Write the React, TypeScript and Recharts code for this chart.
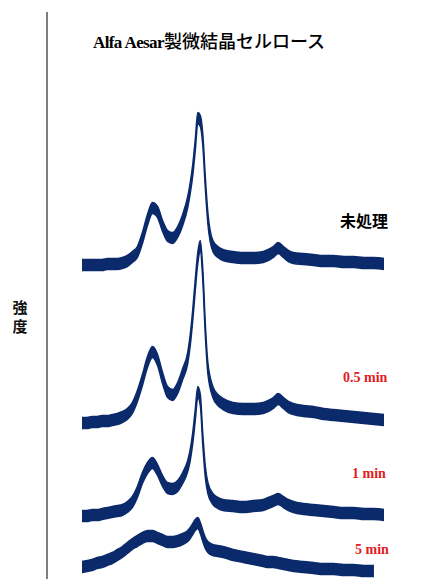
import { Area, ComposedChart, ReferenceLine, XAxis, YAxis } from "recharts";

// 2θ (deg) sampling, finer around the main (200) reflection
const TWO_THETA = [
  10, 10.5, 11, 11.5, 12, 12.5, 13, 13.5, 14, 14.5, 15, 15.5, 16,
  16.5, 17, 17.5, 18, 18.5, 19, 19.5, 20, 20.5,
  20.75, 21, 21.25, 21.5, 21.75, 22, 22.25, 22.5,
  23, 23.5, 24, 25, 26, 27, 28,
  28.5, 29, 29.5, 30, 30.5, 31,
  32, 33, 34, 35, 36, 37, 38, 39, 40,
];

// intensities (a.u.), each relative to its own baseline
const UNTREATED = [
  -1, -1, -1, -1, -1, 0, 0, 0, 1, 3, 7, 12, 26,
  44, 56, 52, 38, 28, 26, 32, 44, 62,
  76, 94, 119, 146, 143, 124, 81, 46,
  18, 12, 9, 7, 6, 6, 7,
  9, 12, 16, 12, 8, 6,
  5, 4, 3, 3, 2, 2, 1, 1, 0,
];
const MIN_05 = [
  -1, -1, 0, 0, 1, 1, 2, 3, 5, 8, 14, 26, 42,
  60, 70, 62, 44, 30, 27, 34, 48, 64,
  82, 107, 137, 164, 176, 147, 92, 54,
  30, 22, 18, 14, 13, 13, 14,
  16, 19, 23, 19, 15, 13,
  11, 10, 8, 7, 6, 5, 4, 3, 2,
];
const MIN_1 = [
  -1, -1, 0, 0, 1, 2, 3, 4, 5, 8, 13, 23, 37,
  47, 52, 45, 34, 27, 26, 29, 37, 49,
  60, 77, 100, 123, 115, 75, 43, 27,
  16, 12, 10, 9, 8, 9, 10,
  12, 14, 16, 13, 10, 8,
  6, 5, 4, 3, 2, 2, 1, 1, 0,
];
const MIN_5 = [
  -1, 0, 1, 3, 4, 6, 8, 11, 14, 18, 22, 25, 28,
  30, 30, 28, 26, 24, 24, 25, 27, 30,
  33, 37, 41, 43, 38, 30, 23, 19,
  16, 15, 14, 11, 9, 7, 5,
  4, 4, 3, 2, 1, 0,
  -1, -2, -3, -3, -4, -4, -5, -5, null,
];

// vertical stacking offsets for the four patterns
const OFFSETS = [315, 157, 64, 13];
const SERIES = [UNTREATED, MIN_05, MIN_1, MIN_5];
const SERIES_KEYS = ["s0", "s1", "s2", "s3"];

const LABELS = ["未処理", "0.5 min", "1 min", "5 min"];

const X_DOMAIN = [6.52, 45.86];
const NAVY = "#0b2a6b";
const RED = "#e31b23";
const SPREAD = 5.5; // half-height of the noisy point cloud

const data = TWO_THETA.map((t, i) => {
  const row: Record<string, unknown> = { t };
  SERIES.forEach((s, k) => {
    const v = s[i];
    row[SERIES_KEYS[k]] =
      v == null ? null : [OFFSETS[k] + v - SPREAD, OFFSETS[k] + v + SPREAD];
  });
  return row;
});

const serif = "'Liberation Serif', 'Times New Roman', serif";
const cjk = "'Noto Sans CJK JP', sans-serif";

export default function App() {
  return (
    <div
      style={{
        position: "absolute",
        left: 0,
        top: 0,
        width: 443,
        height: 579,
        background: "#fff",
        overflow: "hidden",
      }}
    >
      <ComposedChart
        width={443}
        height={579}
        data={data}
        margin={{ top: 12, right: 0, left: 47, bottom: 0 }}
      >
        <XAxis
          dataKey="t"
          type="number"
          domain={X_DOMAIN}
          allowDataOverflow
          hide
        />
        <YAxis type="number" domain={[0, 567]} allowDataOverflow hide />
        {/* intensity axis: bare vertical rule, no ticks */}
        <ReferenceLine
          x={X_DOMAIN[0]}
          stroke="#7f7f7f"
          strokeWidth={2}
          ifOverflow="visible"
        />
        {SERIES_KEYS.map((key) => (
          <Area
            key={key}
            dataKey={key}
            type="monotone"
            stroke={NAVY}
            strokeWidth={1.5}
            fill={NAVY}
            fillOpacity={1}
            dot={false}
            activeDot={false}
            isAnimationActive={false}
          />
        ))}
      </ComposedChart>

      <div
        style={{
          position: "absolute",
          left: 93,
          top: 29,
          whiteSpace: "nowrap",
          fontWeight: 700,
          color: "#000",
          lineHeight: "22px",
        }}
      >
        <span style={{ fontFamily: serif, fontSize: 17, letterSpacing: -0.6 }}>
          Alfa Aesar
        </span>
        <span style={{ fontFamily: cjk, fontSize: 18, fontWeight: 500 }}>
          製微結晶セルロース
        </span>
      </div>

      {["強", "度"].map((ch, i) => (
        <div
          key={ch}
          style={{
            position: "absolute",
            left: 11,
            top: 298 + i * 19,
            width: 18,
            height: 18,
            fontFamily: cjk,
            fontSize: 15,
            fontWeight: 700,
            lineHeight: "18px",
            color: "#111",
            textAlign: "center",
          }}
        >
          {ch}
        </div>
      ))}

      <div
        style={{
          position: "absolute",
          left: 340,
          top: 209,
          fontFamily: cjk,
          fontSize: 16,
          fontWeight: 700,
          lineHeight: "22px",
          color: "#000",
        }}
      >
        {LABELS[0]}
      </div>
      {[
        { text: LABELS[1], left: 343, top: 369 },
        { text: LABELS[2], left: 352, top: 465 },
        { text: LABELS[3], left: 355, top: 541 },
      ].map((l) => (
        <div
          key={l.text}
          style={{
            position: "absolute",
            left: l.left,
            top: l.top,
            fontFamily: serif,
            fontSize: 14,
            fontWeight: 700,
            lineHeight: "18px",
            color: RED,
            whiteSpace: "nowrap",
          }}
        >
          {l.text}
        </div>
      ))}
    </div>
  );
}
